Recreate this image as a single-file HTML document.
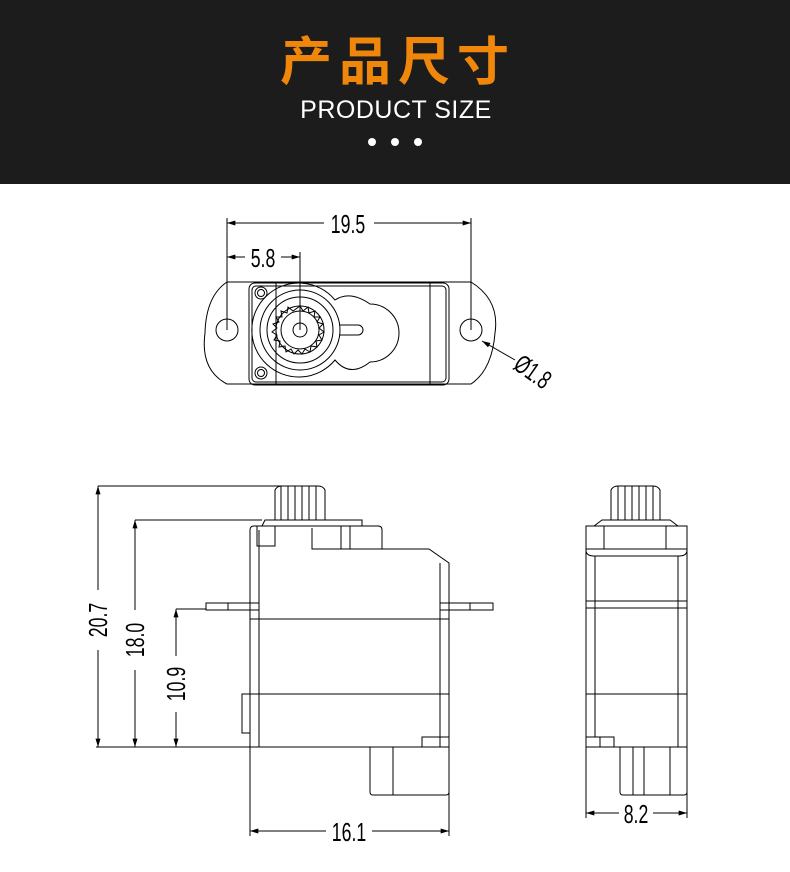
<!DOCTYPE html>
<html><head><meta charset="utf-8"><style>
html,body{margin:0;padding:0;background:#fff}
body{width:790px;height:872px;position:relative;overflow:hidden}
.hd{position:absolute;left:0;top:0;width:790px;height:184px;background:#1c1c1c}
svg{position:absolute;left:0;top:0}
</style></head><body>
<div class="hd"></div>
<svg width="790" height="872" viewBox="0 0 790 872" xmlns="http://www.w3.org/2000/svg">
<defs>
<marker id="a" viewBox="0 0 10 6" refX="10" refY="3" markerWidth="16" markerHeight="5" markerUnits="userSpaceOnUse" orient="auto-start-reverse"><path d="M0,0 L10,3 L0,6 Z" fill="#000"/></marker>
</defs>
<text x="398" y="80" text-anchor="middle" font-family="'Noto Sans CJK SC',sans-serif" font-weight="bold" font-size="52" letter-spacing="7" fill="#f0870a">产品尺寸</text>
<text x="396" y="118" text-anchor="middle" font-family="'Liberation Sans',sans-serif" font-size="25" letter-spacing="0.5" fill="#fff">PRODUCT SIZE</text>
<circle cx="372" cy="142" r="4" fill="#fff"/><circle cx="395" cy="142" r="4" fill="#fff"/><circle cx="418" cy="142" r="4" fill="#fff"/>

<g fill="none" stroke="#000" stroke-width="1">
<!-- TOP VIEW -->
<line x1="227" y1="218" x2="227" y2="330"/><line x1="471" y1="218" x2="471" y2="330"/>
<line x1="227" y1="223" x2="471" y2="223" marker-start="url(#a)" marker-end="url(#a)"/>
<line x1="227" y1="257" x2="300" y2="257" marker-start="url(#a)" marker-end="url(#a)"/>
<line x1="300" y1="252" x2="300" y2="330"/>
<path d="M227 282 L471 282 Q500 300 495 333 Q492 370 471 384 L227 384 Q200 370 205 333 Q206 296 227 282 Z"/>
<circle cx="227" cy="330" r="11"/><circle cx="471" cy="330" r="11"/>
<rect x="249" y="283" width="200" height="102" rx="6"/>
<rect x="252" y="286" width="194" height="96" rx="4"/>
<line x1="430" y1="283" x2="430" y2="385"/><line x1="276" y1="283" x2="276" y2="385"/>
<path d="M335 300 A47 47 0 1 0 335 360 Q350 378 370 362 A22 22 0 0 0 370 304 Q350 290 335 300 Z"/>
<circle cx="300" cy="330" r="40"/><circle cx="300" cy="330" r="33"/>
<circle cx="300" cy="330" r="24"/><circle cx="300" cy="330" r="19"/><circle cx="300" cy="330" r="7"/>
<path d="M300 306 L303 311 L308 307 L309 313 L315 311 L314 317 L320 317 L317 322 L323 324 L319 328 L324 332 L319 335 L322 340 L316 341 L317 347 L311 346 L310 352 L305 349 L302 354 L298 350 L294 354 L291 349 L286 352 L285 346 L279 347 L280 341 L274 340 L277 335 L272 332 L277 328 L273 324 L279 322 L276 317 L282 317 L281 311 L287 313 L288 307 L293 311 Z"/>
<path d="M340 325 L358 325 A5 5 0 0 1 358 335 L340 335"/>
<circle cx="261" cy="293" r="6"/><circle cx="261" cy="293" r="3.5"/>
<circle cx="261" cy="373" r="6"/><circle cx="261" cy="373" r="3.5"/>
<line x1="482" y1="341" x2="515" y2="360" marker-start="url(#a)"/>

<!-- SIDE VIEW -->
<line x1="98" y1="486" x2="282" y2="486"/>
<line x1="135" y1="520" x2="262" y2="520"/>
<line x1="176" y1="609" x2="206" y2="609"/>
<line x1="96" y1="747" x2="252" y2="747"/>
<line x1="98" y1="486" x2="98" y2="747" marker-start="url(#a)" marker-end="url(#a)"/>
<line x1="135" y1="520" x2="135" y2="747" marker-start="url(#a)" marker-end="url(#a)"/>
<line x1="176" y1="609" x2="176" y2="747" marker-start="url(#a)" marker-end="url(#a)"/>
<path d="M275 520 L275 490 Q277 486 282 486 L318 486 Q323 486 325 490 L325 520"/>
<path d="M281 486 L281 520 M288 486 L288 520 M295 486 L295 520 M302 486 L302 520 M309 486 L309 520 M316 486 L316 520"/>
<path d="M262 526 L265 520 L338 520 L362 520 L362 526"/>
<path d="M250 747 L250 530 Q250 526 254 526 L378 526 Q382 526 382 530 L382 549"/>
<path d="M312 528 L312 549 L429 549 L449 563 L449 747 L250 747"/>
<line x1="259" y1="530" x2="259" y2="747"/>
<rect x="257" y="526" width="18" height="20"/>
<line x1="341" y1="526" x2="341" y2="549"/><line x1="350" y1="526" x2="350" y2="549"/>
<line x1="440" y1="563" x2="440" y2="747"/>
<rect x="206" y="603" width="53" height="7"/><line x1="228" y1="603" x2="228" y2="610"/>
<rect x="440" y="603" width="53" height="7"/><line x1="470" y1="603" x2="470" y2="610"/>
<line x1="250" y1="619" x2="449" y2="619"/>
<line x1="242" y1="694" x2="449" y2="694"/>
<rect x="242" y="694" width="8" height="39"/>
<rect x="422" y="737" width="27" height="10"/>
<path d="M370 747 L370 792 Q370 795 373 795 L446 795 Q449 795 449 792 L449 747"/>
<line x1="393" y1="747" x2="393" y2="795"/>
<line x1="250" y1="747" x2="250" y2="836"/><line x1="449" y1="747" x2="449" y2="836"/>
<line x1="250" y1="831" x2="449" y2="831" marker-start="url(#a)" marker-end="url(#a)"/>

<!-- FRONT VIEW -->
<path d="M611 520 L611 490 Q613 486 618 486 L653 486 Q658 486 660 490 L660 520"/>
<path d="M618 486 L618 520 M625 486 L625 520 M632 486 L632 520 M639 486 L639 520 M646 486 L646 520 M653 486 L653 520"/>
<path d="M594 526 L602 520 L670 520 L678 526"/>
<rect x="586" y="526" width="101" height="221"/>
<path d="M586 550 Q586 556 594 556 L679 556 Q687 556 687 550"/>
<line x1="586" y1="549" x2="687" y2="549"/>
<line x1="604" y1="526" x2="604" y2="549"/><line x1="666" y1="526" x2="666" y2="549"/>
<line x1="595" y1="556" x2="595" y2="737"/><line x1="678" y1="556" x2="678" y2="747"/>
<rect x="586" y="601" width="101" height="7"/>
<line x1="586" y1="694" x2="687" y2="694"/>
<rect x="586" y="737" width="28" height="10"/><line x1="600" y1="737" x2="600" y2="747"/>
<path d="M620 747 L620 792 Q620 795 623 795 L684 795 Q687 795 687 792"/>
<rect x="644" y="747" width="26" height="48"/>
<line x1="633" y1="747" x2="633" y2="795"/>
<line x1="586" y1="747" x2="586" y2="818"/><line x1="687" y1="747" x2="687" y2="818"/>
<line x1="586" y1="813" x2="687" y2="813" marker-start="url(#a)" marker-end="url(#a)"/>
</g>

<g font-family="'Liberation Sans',sans-serif" font-size="26" fill="#000">
<rect x="324" y="212" width="50" height="22" fill="#fff"/>
<text transform="translate(348 233) scale(0.68 1)" text-anchor="middle">19.5</text>
<rect x="245" y="246" width="36" height="22" fill="#fff"/>
<text transform="translate(263 267) scale(0.68 1)" text-anchor="middle">5.8</text>
<text transform="translate(512 368) rotate(35) scale(0.68 1)">Ø1.8</text>
<rect x="86" y="590" width="24" height="60" fill="#fff"/>
<text transform="translate(107 620) rotate(-90) scale(0.68 1)" text-anchor="middle">20.7</text>
<rect x="123" y="610" width="24" height="60" fill="#fff"/>
<text transform="translate(144 640) rotate(-90) scale(0.68 1)" text-anchor="middle">18.0</text>
<rect x="164" y="656" width="24" height="56" fill="#fff"/>
<text transform="translate(185 684) rotate(-90) scale(0.68 1)" text-anchor="middle">10.9</text>
<rect x="326" y="820" width="46" height="22" fill="#fff"/>
<text transform="translate(349 841) scale(0.68 1)" text-anchor="middle">16.1</text>
<rect x="619" y="802" width="34" height="22" fill="#fff"/>
<text transform="translate(636 823) scale(0.68 1)" text-anchor="middle">8.2</text>
</g>
</svg>
</body></html>
